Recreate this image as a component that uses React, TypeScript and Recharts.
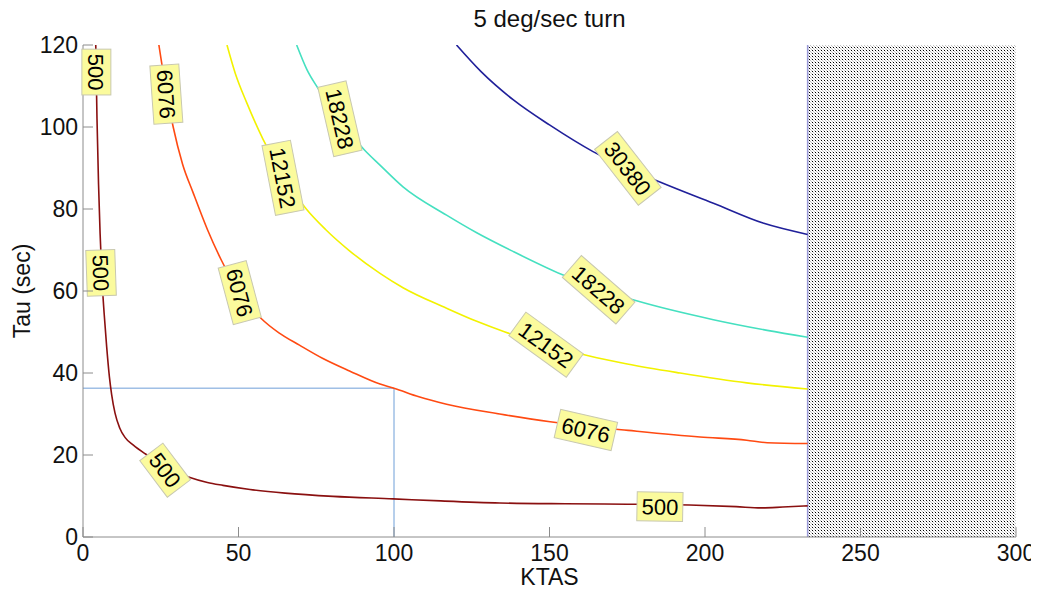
import { LineChart, Line, XAxis, YAxis, ReferenceArea, ReferenceLine, ReferenceDot } from "recharts";

// contour lines: [KTAS, Tau]
const curve500: [number, number][] = [
  [4.1, 120], [4.5, 102], [5.0, 86], [5.5, 74], [6.1, 63], [6.8, 54.5], [7.6, 46.5], [8.5, 39],
  [9.2, 34.8], [10.3, 30.2], [11.8, 26.6], [13.5, 24.3], [16.2, 22.4], [20, 20.3], [25, 18],
  [30, 15.9], [34.4, 14.5], [40, 13.3], [45, 12.6], [53.7, 11.6], [65, 10.7], [80.4, 9.9],
  [99.7, 9.3], [115, 8.8], [134, 8.3], [155, 8.1], [175, 8.0], [195, 7.8], [210, 7.4],
  [218, 7.1], [225, 7.3], [233, 7.6],
];
const curve6076: [number, number][] = [
  [24.4, 120], [26.5, 110], [29, 100], [32, 91], [35.4, 84], [40, 75], [44.5, 67.5], [50, 60],
  [57.3, 53.3], [63, 49.8], [69.6, 46.8], [77, 43.6], [85.7, 40.5], [95.5, 37.3], [100, 36.3],
  [108, 34.2], [116.9, 32.4], [134, 30.0], [150.2, 28.1], [162, 27], [175.3, 26],
  [198.4, 24.4], [213.4, 23.6], [220, 23], [233, 22.8],
];
const curve12152: [number, number][] = [
  [46.3, 120], [49, 113], [52.6, 106], [57.9, 97], [64, 88.5], [71.8, 80], [78, 75], [85.7, 69.8],
  [95.5, 64.3], [102.9, 60.8], [116.9, 55.8], [126.6, 52.6], [135.7, 50], [148.9, 46.9],
  [162.5, 44.2], [175, 42.2], [192, 40], [213.4, 37.6], [233, 36.1],
];
const curve18228: [number, number][] = [
  [68.7, 120], [72, 114], [75.5, 109.5], [82.6, 101.5], [90.5, 94.4], [95.5, 90.7], [102.9, 85.4],
  [116.9, 78.5], [126.6, 74.2], [138.4, 69.6], [154, 64], [165.8, 60.5], [178, 57.6],
  [202.7, 53], [220, 50.4], [233, 48.7],
];
const curve30380: [number, number][] = [
  [120.1, 120], [128, 113.5], [138.4, 106.6], [150, 100.5], [164, 94], [175, 90],
  [185.5, 86.6], [202.7, 81.4], [218.9, 76.5], [233, 73.8],
];

const contours = [
  { level: "500", pts: curve500, color: "#8a1010" },
  { level: "6076", pts: curve6076, color: "#ff4a12" },
  { level: "12152", pts: curve12152, color: "#f2f200" },
  { level: "18228", pts: curve18228, color: "#45e0c0" },
  { level: "30380", pts: curve30380, color: "#20209a" },
];

// in-line contour labels (KTAS, Tau, text angle)
const tags = [
  { text: "500", ktas: 4.3, tau: 113.4, angle: 90 },
  { text: "500", ktas: 5.8, tau: 64.4, angle: 88 },
  { text: "500", ktas: 26.4, tau: 16.3, angle: 53 },
  { text: "500", ktas: 185.5, tau: 7.4, angle: 1 },
  { text: "6076", ktas: 26.8, tau: 108, angle: 86 },
  { text: "6076", ktas: 50.4, tau: 59.6, angle: 75 },
  { text: "6076", ktas: 161.7, tau: 26.1, angle: 13 },
  { text: "12152", ktas: 64.3, tau: 87.6, angle: 79 },
  { text: "12152", ktas: 148.9, tau: 46.9, angle: 36 },
  { text: "18228", ktas: 82.6, tau: 102, angle: 77 },
  { text: "18228", ktas: 165.8, tau: 60.3, angle: 41 },
  { text: "30380", ktas: 175.2, tau: 89.9, angle: 52 },
];

const ktasTicks = [0, 50, 100, 150, 200, 250, 300];
const tauTicks = [0, 20, 40, 60, 80, 100, 120];
const marker = { ktas: 100, tau: 36.3 };
const limitKtas = 233;

const FONT = '"Liberation Sans", Arial, Helvetica, sans-serif';
const AXIS = "#8c8c8c";

function BottomTick({ x, y, payload }: any) {
  return (
    <g>
      <line x1={x} x2={x} y1={y} y2={y - 10} stroke={AXIS} />
      <text x={x} y={y + 24} textAnchor="middle" fontSize={23} fill="#111">{payload.value}</text>
    </g>
  );
}

function TopTick({ x, y }: any) {
  return <line x1={x} x2={x} y1={y} y2={y + 10} stroke={AXIS} />;
}

function LeftTick({ x, y, payload }: any) {
  return (
    <g>
      <line x1={x} x2={x + 10} y1={y} y2={y} stroke={AXIS} />
      <text x={x - 5} y={y + 8} textAnchor="end" fontSize={23} fill="#111">{payload.value}</text>
    </g>
  );
}

function ContourTag({ cx, cy, text, angle }: any) {
  const w = text.length * 12.6 + 8;
  const h = 29;
  return (
    <g transform={`translate(${cx},${cy}) rotate(${angle})`}>
      <rect x={-w / 2} y={-h / 2} width={w} height={h} fill="#fbfb9d" stroke="#c8c8b0" strokeWidth={1} />
      <text x={0} y={8} textAnchor="middle" fontSize={22} fill="#000">{text}</text>
    </g>
  );
}

export default function App() {
  return (
    <div style={{ position: "relative", width: 1031, height: 582, fontFamily: FONT }}>
      <LineChart width={1031} height={582} margin={{ top: 37, right: 23, bottom: 0, left: 15 }}>
        <defs>
          <pattern id="dots" width="3" height="3" patternUnits="userSpaceOnUse">
            <rect width="3" height="3" fill="#ffffff" />
            <rect x="0" y="0" width="1" height="1" fill="#000000" />
            <rect x="1" y="1" width="1" height="1" fill="#c4c4c4" />
            <rect x="2" y="2" width="1" height="1" fill="#c4c4c4" />
          </pattern>
        </defs>
        <XAxis
          xAxisId={0}
          dataKey="ktas"
          type="number"
          domain={[0, 300]}
          ticks={ktasTicks}
          allowDataOverflow
          height={53}
          tickSize={0}
          tickMargin={0}
          tickLine={false}
          axisLine={{ stroke: AXIS }}
          tick={<BottomTick />}
          label={{ value: "KTAS", position: "insideBottom", offset: 5, fontSize: 23, fill: "#111" }}
        />
        <XAxis
          xAxisId="top"
          orientation="top"
          type="number"
          domain={[0, 300]}
          ticks={ktasTicks}
          height={0}
          tickSize={0}
          tickMargin={0}
          tickLine={false}
          axisLine={{ stroke: AXIS }}
          tick={<TopTick />}
        />
        <YAxis
          yAxisId={0}
          type="number"
          domain={[0, 120]}
          ticks={tauTicks}
          allowDataOverflow
          width={60}
          tickSize={0}
          tickMargin={0}
          tickLine={false}
          axisLine={{ stroke: AXIS }}
          tick={<LeftTick />}
          label={{ value: "Tau (sec)", angle: -90, position: "insideLeft", offset: -1, fontSize: 23, fill: "#111", style: { textAnchor: "middle" } }}
        />
        <YAxis
          yAxisId="right"
          orientation="right"
          type="number"
          domain={[0, 120]}
          ticks={tauTicks}
          width={0}
          tickLine={false}
          axisLine={{ stroke: AXIS }}
          tick={false}
        />
        <ReferenceArea x1={limitKtas} x2={300} y1={0} y2={120} fill="url(#dots)" fillOpacity={1} stroke="none" ifOverflow="visible" />
        <ReferenceLine x={limitKtas} stroke="#9a9ad8" strokeWidth={1.5} />
        <ReferenceLine segment={[{ x: 0, y: marker.tau }, { x: marker.ktas, y: marker.tau }]} stroke="#6f9fd8" strokeWidth={1} />
        <ReferenceLine segment={[{ x: marker.ktas, y: 0 }, { x: marker.ktas, y: marker.tau }]} stroke="#6f9fd8" strokeWidth={1} />
        {contours.map((c) => (
          <Line
            key={c.level}
            data={c.pts.map(([ktas, tau]) => ({ ktas, tau }))}
            dataKey="tau"
            type="monotone"
            stroke={c.color}
            strokeWidth={1.6}
            dot={false}
            activeDot={false}
            isAnimationActive={false}
          />
        ))}
        {tags.map((t, i) => (
          <ReferenceDot
            key={i}
            x={t.ktas}
            y={t.tau}
            r={1}
            ifOverflow="visible"
            shape={(p: any) => <ContourTag cx={p.cx} cy={p.cy} text={t.text} angle={t.angle} />}
          />
        ))}
      </LineChart>
      <div style={{ position: "absolute", top: -1, left: 75, width: 933, textAlign: "center", fontSize: 24, lineHeight: "24px", color: "#111" }}>
        5 deg/sec turn
      </div>
    </div>
  );
}
